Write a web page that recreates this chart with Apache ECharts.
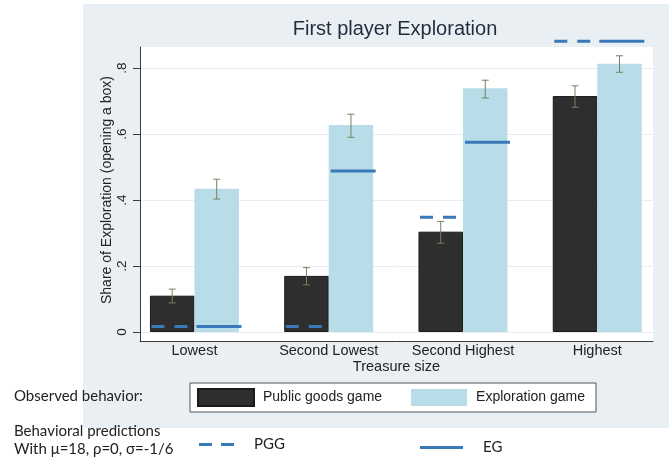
<!DOCTYPE html>
<html>
<head>
<meta charset="utf-8">
<script src="https://cdn.jsdelivr.net/npm/echarts@6/dist/echarts.min.js"></script>
<style>
  html, body { margin: 0; padding: 0; background: #fff; }
  #chart { width: 669px; height: 466px; }
</style>
</head>
<body>
<div id="chart"></div>
<script>
// Treasure size groups and y tick labels
const categories = ['Lowest', 'Second Lowest', 'Second Highest', 'Highest'];
const yTickLabels = ['0', '.2', '.4', '.6', '.8'];

// Observed share of first players opening a box
const publicGoods = [0.110, 0.170, 0.304, 0.715];
const exploration = [0.434, 0.627, 0.739, 0.813];

// Confidence interval bounds
const publicGoodsLow = [0.088, 0.143, 0.269, 0.681];
const publicGoodsHigh = [0.130, 0.195, 0.335, 0.746];
const explorationLow = [0.403, 0.590, 0.709, 0.787];
const explorationHigh = [0.463, 0.660, 0.763, 0.837];

// Model predictions (mu=18, rho=0, sigma=-1/6)
const predictedPGG = [0.017, 0.017, 0.348, 0.881];
const predictedEG = [0.017, 0.488, 0.575, 0.881];

const BLUE = '#3a78b7';
const BAR_W = 44.5;
const AXIS_COLOR = '#3a3a3a';
const TEXT = '#222';
const ARIAL = 'Liberation Sans, Arial, sans-serif';
const SOFT = 'Lato, sans-serif';

const idx = categories.map((_, i) => i);
const rangeData = (lo, hi) => idx.map(i => [i, lo[i], hi[i]]);
const pointData = vals => idx.map(i => [i, vals[i]]);

// vertical whisker with caps, shifted onto its bar
function errorBar(shift) {
  return function (params, api) {
    const i = api.value(0);
    const top = api.coord([i, api.value(2)]);
    const bot = api.coord([i, api.value(1)]);
    const x = top[0] + shift;
    const cap = 3.5;
    const st = { stroke: '#738262', lineWidth: 1 };
    return {
      type: 'group',
      children: [
        { type: 'line', shape: { x1: x, y1: top[1], x2: x, y2: bot[1] }, style: st },
        { type: 'line', shape: { x1: x - cap, y1: top[1], x2: x + cap, y2: top[1] }, style: st },
        { type: 'line', shape: { x1: x - cap, y1: bot[1], x2: x + cap, y2: bot[1] }, style: st }
      ]
    };
  };
}

// horizontal prediction segment across one bar
function predictionLine(from, to, dash) {
  return function (params, api) {
    const p = api.coord([api.value(0), api.value(1)]);
    return {
      type: 'line',
      shape: { x1: p[0] + from, y1: p[1], x2: p[0] + to, y2: p[1] },
      style: { stroke: BLUE, lineWidth: 3, lineDash: dash }
    };
  };
}

const chart = echarts.init(document.getElementById('chart'));

chart.setOption({
  animation: false,
  backgroundColor: '#fff',
  title: {
    text: 'First player Exploration',
    left: 395,
    textAlign: 'center',
    top: 19,
    padding: 0,
    textStyle: { fontFamily: ARIAL, fontSize: 20, fontWeight: 'normal', color: '#1f2d3d' }
  },
  graphic: [
    { type: 'rect', z: -10, silent: true, shape: { x: 83, y: 4, width: 586, height: 424 }, style: { fill: '#e9eff2' } },
    { type: 'rect', z: -9, silent: true, shape: { x: 140, y: 47, width: 513, height: 294 }, style: { fill: '#ffffff' } },
    { type: 'text', left: 14, top: 389, style: { text: 'Observed behavior:', font: '15px ' + SOFT, fill: TEXT } },
    { type: 'text', left: 14, top: 424, style: { text: 'Behavioral predictions', font: '15px ' + SOFT, fill: TEXT } },
    { type: 'text', left: 14, top: 442, style: { text: 'With \u03bc=18, \u03c1=0, \u03c3=-1/6', font: '15px ' + SOFT, fill: TEXT } }
  ],
  legend: [
    {
      data: ['Public goods game', 'Exploration game'],
      left: 190, top: 383,
      orient: 'horizontal',
      selectedMode: false,
      icon: 'rect',
      itemWidth: 56, itemHeight: 17, itemGap: 29,
      padding: [5, 11, 5, 7],
      borderColor: '#555', borderWidth: 1, borderRadius: 0,
      backgroundColor: '#fff',
      textStyle: { fontFamily: ARIAL, fontSize: 14, color: TEXT, padding: [0, 0, 0, 4] }
    },
    {
      data: [{ name: 'PGG', icon: 'path://M0,0H13V3H0Z M22,0H35V3H22Z' }],
      left: 199, top: 437, padding: 0,
      selectedMode: false,
      itemWidth: 35, itemHeight: 3,
      textStyle: { fontFamily: SOFT, fontSize: 15, color: TEXT, padding: [0, 0, 0, 15] }
    },
    {
      data: [{ name: 'EG', icon: 'rect' }],
      left: 420, top: 440, padding: 0,
      selectedMode: false,
      itemWidth: 43, itemHeight: 3,
      textStyle: { fontFamily: SOFT, fontSize: 15, color: TEXT, padding: [0, 0, 0, 15] }
    }
  ],
  grid: [
    // bars and markers
    { left: 127.3, right: 4.6, top: 68, bottom: 134 },
    // plot frame lines
    { left: 140, right: 16, top: 47, bottom: 125 },
    // y scale, ticks and gridlines
    { left: 140, right: 16, top: 68, bottom: 134 }
  ],
  xAxis: [
    {
      gridIndex: 0, type: 'category', data: categories,
      axisLine: { show: false }, axisTick: { show: false },
      axisLabel: { margin: 11, fontFamily: ARIAL, fontSize: 14.5, color: TEXT }
    },
    {
      gridIndex: 1, type: 'value', min: 0, max: 1,
      axisLine: { show: true, onZero: false, lineStyle: { color: AXIS_COLOR, width: 1 } },
      axisTick: { show: false }, axisLabel: { show: false }, splitLine: { show: false },
      name: 'Treasure size', nameLocation: 'middle', nameGap: 18,
      nameTextStyle: { fontFamily: ARIAL, fontSize: 14.5, color: TEXT }
    },
    { gridIndex: 2, type: 'value', min: 0, max: 1, show: false }
  ],
  yAxis: [
    { gridIndex: 0, type: 'value', min: 0, max: 0.8, show: false },
    {
      gridIndex: 1, type: 'value', min: 0, max: 1,
      axisLine: { show: true, onZero: false, lineStyle: { color: AXIS_COLOR, width: 1 } },
      axisTick: { show: false }, axisLabel: { show: false }, splitLine: { show: false }
    },
    {
      gridIndex: 2, type: 'value', min: 0, max: 0.8, interval: 0.2,
      axisLine: { show: false },
      axisTick: { show: true, length: 7, lineStyle: { color: AXIS_COLOR } },
      axisLabel: {
        rotate: 90, margin: 11, fontFamily: ARIAL, fontSize: 13.5, color: TEXT,
        formatter: v => yTickLabels[Math.round(v / 0.2)]
      },
      splitLine: { show: true, lineStyle: { color: '#e7edf0', width: 1 } },
      name: 'Share of Exploration (opening a box)', nameLocation: 'middle', nameGap: 26,
      nameMoveOverlap: false,
      nameTextStyle: { fontFamily: ARIAL, fontSize: 14, color: TEXT, padding: [0, 0, 0, 20] }
    }
  ],
  series: [
    {
      name: 'Public goods game', type: 'bar', xAxisIndex: 0, yAxisIndex: 0,
      data: publicGoods, barWidth: BAR_W, barGap: '0%', clip: false,
      itemStyle: { color: '#2e2e2e', borderColor: '#1a1a1a', borderWidth: 1 }
    },
    {
      name: 'Exploration game', type: 'bar', xAxisIndex: 0, yAxisIndex: 0,
      data: exploration, barWidth: BAR_W, barGap: '0%', clip: false,
      itemStyle: { color: '#b8dce8' }
    },
    {
      type: 'custom', xAxisIndex: 0, yAxisIndex: 0, z: 4, clip: false,
      renderItem: errorBar(-BAR_W / 2), encode: { x: 0, y: [1, 2] },
      data: rangeData(publicGoodsLow, publicGoodsHigh)
    },
    {
      type: 'custom', xAxisIndex: 0, yAxisIndex: 0, z: 4, clip: false,
      renderItem: errorBar(BAR_W / 2), encode: { x: 0, y: [1, 2] },
      data: rangeData(explorationLow, explorationHigh)
    },
    {
      name: 'PGG', type: 'custom', xAxisIndex: 0, yAxisIndex: 0, z: 5, clip: false,
      itemStyle: { color: BLUE },
      renderItem: predictionLine(-43, -7, [13, 10]), encode: { x: 0, y: 1 },
      data: pointData(predictedPGG)
    },
    {
      name: 'EG', type: 'custom', xAxisIndex: 0, yAxisIndex: 0, z: 5, clip: false,
      itemStyle: { color: BLUE },
      renderItem: predictionLine(2, 47, null), encode: { x: 0, y: 1 },
      data: pointData(predictedEG)
    }
  ]
});
</script>
</body>
</html>
